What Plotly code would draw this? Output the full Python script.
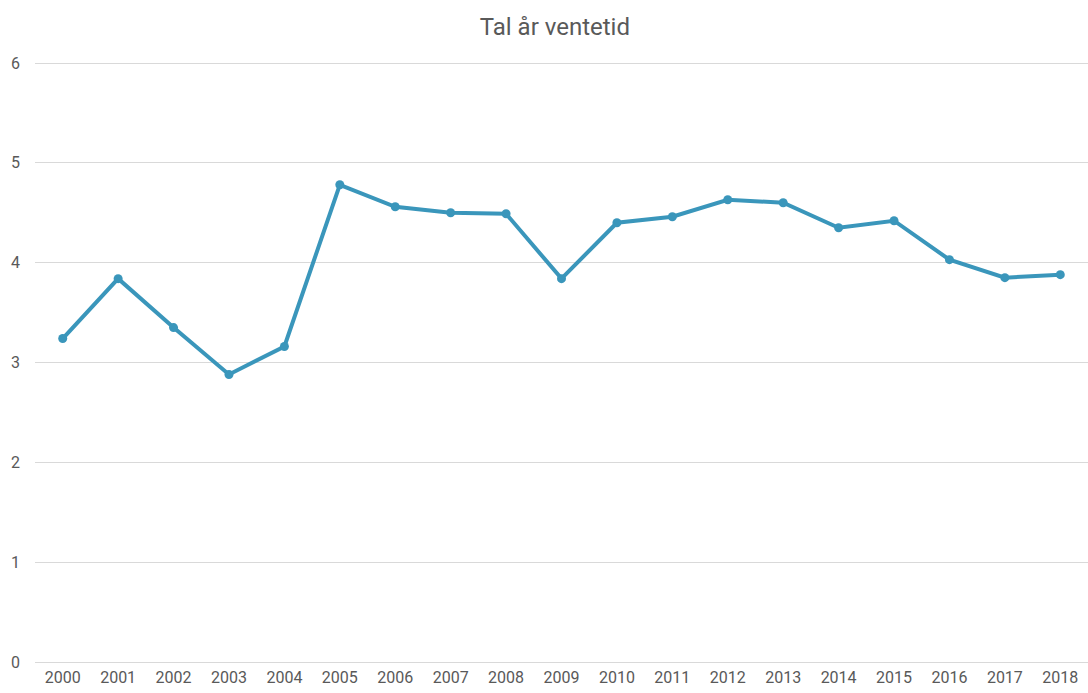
import plotly.graph_objects as go

# data
years = [str(y) for y in range(2000, 2019)]
values = [3.24, 3.84, 3.35, 2.88, 3.16, 4.78, 4.56, 4.50, 4.49, 3.84,
          4.40, 4.46, 4.63, 4.60, 4.35, 4.42, 4.03, 3.85, 3.88]
y_ticks = [0, 1, 2, 3, 4, 5, 6]

fig = go.Figure()

fig.add_trace(go.Scatter(
    x=years, y=values,
    mode="lines+markers",
    line=dict(color="#3A96BB", width=4),
    marker=dict(color="#3A96BB", size=9),
    hoverinfo="x+y",
))

fig.update_layout(
    width=1088, height=693,
    title=dict(text="Tal år ventetid", x=0.51, xanchor="center", y=0.962, yanchor="middle",
               font=dict(family="Roboto", size=24, color="#595959")),
    font=dict(family="Roboto", size=16, color="#595959"),
    plot_bgcolor="white",
    paper_bgcolor="white",
    showlegend=False,
    margin=dict(l=35, r=0, t=61, b=31),
)

fig.update_xaxes(
    type="category",
    range=[-0.5, 18.5],
    showgrid=False,
    showline=False,
    zeroline=False,
    ticks="",
    ticklabelstandoff=4,
)
fig.update_yaxes(
    range=[0, 6.02],
    tickvals=y_ticks,
    showgrid=True,
    gridcolor="#D9D9D9",
    gridwidth=1,
    zeroline=True,
    zerolinecolor="#D9D9D9",
    zerolinewidth=1,
    ticks="",
    ticklabelstandoff=14,
)

# the page body has a default margin; remove it so the figure sits at (0, 0)
fig.write_html("out.html", config={"displayModeBar": False},
               post_script="document.body.style.margin='0';")
